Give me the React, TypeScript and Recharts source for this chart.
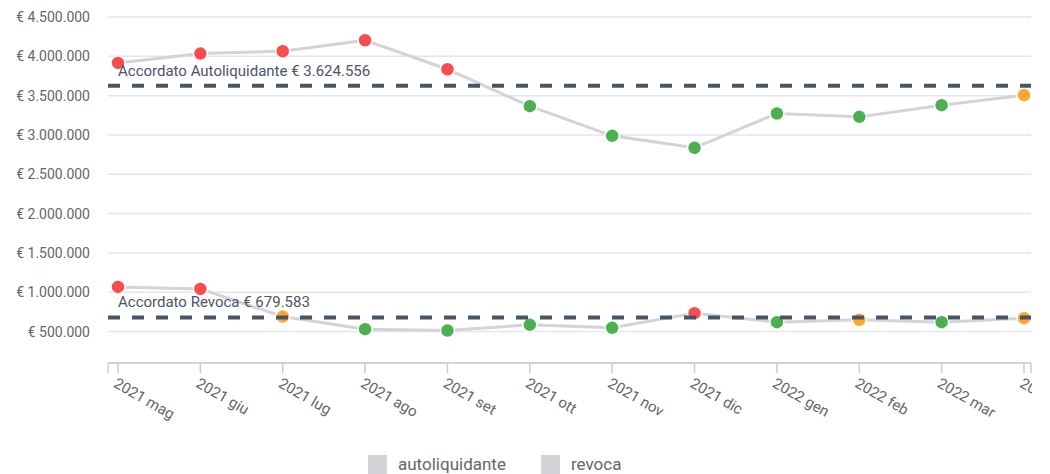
import { LineChart, Line, XAxis, YAxis, CartesianGrid, ReferenceLine, Legend } from "recharts";

const months = [
  "2021 mag", "2021 giu", "2021 lug", "2021 ago", "2021 set", "2021 ott",
  "2021 nov", "2021 dic", "2022 gen", "2022 feb", "2022 mar", "2022 apr",
];

const autoliquidante = [3916000, 4035000, 4064000, 4204000, 3836000, 3366000, 2989000, 2837000, 3273000, 3230000, 3379000, 3506000];
const autoliquidanteStatus = ["over", "over", "over", "over", "over", "under", "under", "under", "under", "under", "under", "near"];

const revoca = [1068000, 1042000, 690000, 530000, 513000, 585000, 547000, 734000, 619000, 649000, 619000, 670000];
const revocaStatus = ["over", "over", "near", "under", "under", "under", "under", "over", "under", "near", "under", "near"];

const accordatoAutoliquidante = 3624556;
const accordatoRevoca = 679583;

const yTicks = [500000, 1000000, 1500000, 2000000, 2500000, 3000000, 3500000, 4000000, 4500000];

const data = months.map((m, i) => ({
  month: m,
  autoliquidante: autoliquidante[i],
  autoliquidanteStatus: autoliquidanteStatus[i],
  revoca: revoca[i],
  revocaStatus: revocaStatus[i],
}));

const statusColor: Record<string, string> = {
  over: "#f94c4f",
  near: "#ffa62b",
  under: "#4caf50",
};

const PAD_LEFT = 10;
const PAD_RIGHT = 7;
const TICK_SIZE = 10;
const TICK_MARGIN = 4;

const fmt = (v: number) => "€ " + String(Math.round(v)).replace(/\B(?=(\d{3})+(?!\d))/g, ".");

const makeDot = (statusKey: string) => (props: any) => {
  const { cx, cy, payload, index } = props;
  if (cx == null || cy == null) return <g key={index} />;
  return (
    <circle
      key={`${statusKey}-${index}`}
      cx={cx}
      cy={cy}
      r={7}
      fill={statusColor[payload[statusKey]]}
      stroke="#ffffff"
      strokeWidth={1.5}
    />
  );
};

// month label, plus the extra tick marks at both ends of the axis
function MonthTick(props: any) {
  const { x, y, payload, index, visibleTicksCount } = props;
  const axisY = y - TICK_SIZE - TICK_MARGIN;
  let edgeX: number | null = null;
  if (index === 0) edgeX = x - PAD_LEFT;
  if (index === visibleTicksCount - 1) edgeX = x + PAD_RIGHT;
  return (
    <g>
      {edgeX != null && (
        <line x1={edgeX} x2={edgeX} y1={axisY} y2={axisY + TICK_SIZE} stroke="#cccccc" strokeWidth={1.5} />
      )}
      <text
        x={x}
        y={y}
        dy="0.71em"
        textAnchor="start"
        fill="#666666"
        fontSize={15}
        transform={`rotate(30, ${x}, ${y})`}
      >
        {payload.value}
      </text>
    </g>
  );
}

function LegendContent() {
  const items = ["autoliquidante", "revoca"];
  return (
    <div style={{ height: 41, position: "relative" }}>
      <div style={{ display: "flex", alignItems: "center", paddingLeft: 360, paddingTop: 21 }}>
        {items.map((name) => (
          <div key={name} style={{ display: "flex", alignItems: "center", marginRight: 35 }}>
            <div style={{ width: 19, height: 19, background: "#d3d3d8", marginRight: 11 }} />
            <span style={{ fontSize: 17, color: "#666666", lineHeight: "20px" }}>{name}</span>
          </div>
        ))}
      </div>
    </div>
  );
}

export default function App() {
  return (
    <div style={{ fontFamily: "Roboto, sans-serif" }}>
      <LineChart
        width={1024}
        height={466}
        data={data}
        margin={{ top: 9, right: 1, bottom: 0, left: 0 }}
      >
        <CartesianGrid vertical={false} stroke="#e6e6e6" strokeWidth={1.5} />
        <XAxis
          dataKey="month"
          height={70}
          padding={{ left: PAD_LEFT, right: PAD_RIGHT }}
          axisLine={{ stroke: "#cccccc", strokeWidth: 1.5 }}
          tickLine={{ stroke: "#cccccc", strokeWidth: 1.5 }}
          tickSize={TICK_SIZE}
          tickMargin={TICK_MARGIN}
          interval={0}
          tick={<MonthTick />}
        />
        <YAxis
          width={100}
          domain={[100000, 4500000]}
          ticks={yTicks}
          axisLine={false}
          tickLine={false}
          tickMargin={12}
          tickFormatter={fmt}
          tick={{ fill: "#666666", fontSize: 14 }}
        />
        <Legend verticalAlign="bottom" content={<LegendContent />} />
        <Line
          dataKey="autoliquidante"
          stroke="#d3d3d8"
          strokeWidth={3}
          dot={makeDot("autoliquidanteStatus")}
          activeDot={false}
          isAnimationActive={false}
        />
        <Line
          dataKey="revoca"
          stroke="#d3d3d8"
          strokeWidth={3}
          dot={makeDot("revocaStatus")}
          activeDot={false}
          isAnimationActive={false}
        />
        <ReferenceLine
          y={accordatoAutoliquidante}
          zIndex={1500}
          stroke="#475569"
          strokeWidth={4}
          strokeDasharray="12 12"
          label={{
            value: "Accordato Autoliquidante " + fmt(accordatoAutoliquidante),
            position: "insideBottomLeft",
            offset: 10,
            fill: "#4a5568",
            fontSize: 15,
          }}
        />
        <ReferenceLine
          y={accordatoRevoca}
          zIndex={1500}
          stroke="#475569"
          strokeWidth={4}
          strokeDasharray="12 12"
          label={{
            value: "Accordato Revoca " + fmt(accordatoRevoca),
            position: "insideBottomLeft",
            offset: 10,
            fill: "#4a5568",
            fontSize: 15,
          }}
        />
      </LineChart>
    </div>
  );
}
